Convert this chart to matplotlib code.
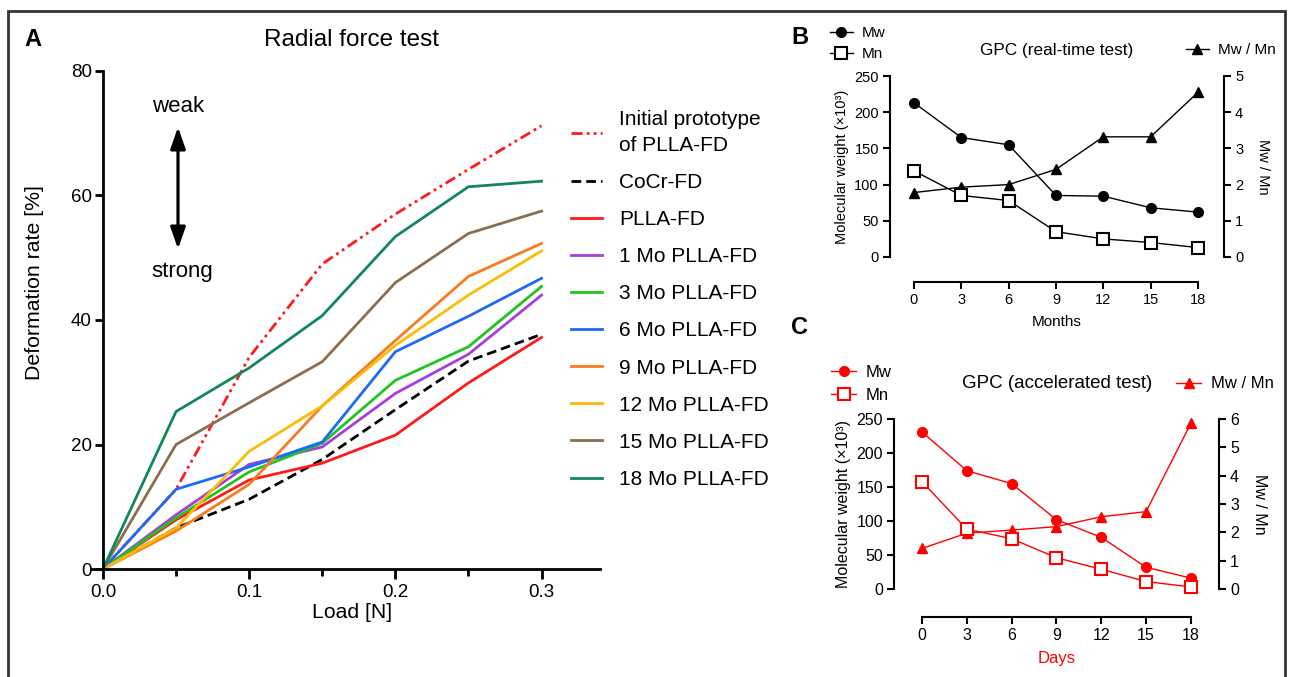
import matplotlib
matplotlib.use("Agg")
import matplotlib.pyplot as plt
from matplotlib.lines import Line2D
from matplotlib.patches import Rectangle

plt.rcParams['font.family'] = ['Liberation Sans', 'DejaVu Sans']

# ---- data ----
load = [0.0, 0.05, 0.1, 0.15, 0.2, 0.25, 0.3]
initial_proto = [0, 12.8, 34.0, 49.0, 57.0, 64.2, 71.2]
cocr = [0, 6.6, 11.2, 17.6, 25.6, 33.4, 37.7]
plla = [0, 7.9, 14.3, 17.0, 21.5, 29.9, 37.2]
mo1 = [0, 8.7, 16.8, 19.6, 28.2, 34.5, 44.0]
mo3 = [0, 8.2, 15.6, 20.2, 30.3, 35.7, 45.4]
mo6 = [0, 12.8, 16.4, 20.4, 34.9, 40.6, 46.7]
mo9 = [0, 6.1, 13.6, 26.2, 36.7, 47.0, 52.3]
mo12 = [0, 6.6, 18.9, 26.2, 35.9, 44.0, 51.1]
mo15 = [0, 20.0, 26.7, 33.3, 46.0, 53.9, 57.5]
mo18 = [0, 25.3, 32.3, 40.7, 53.4, 61.4, 62.3]

months = [0, 3, 6, 9, 12, 15, 18]
rt_mw = [213, 165, 155, 85, 84, 68, 62]
rt_mn = [119, 85, 78, 35, 25, 20, 13]
rt_ratio = [1.78, 1.93, 2.0, 2.42, 3.32, 3.32, 4.55]

days = [0, 3, 6, 9, 12, 15, 18]
acc_mw = [231, 174, 155, 102, 76, 32, 16]
acc_mn = [158, 88, 74, 46, 29, 11, 3]
acc_ratio = [1.43, 1.97, 2.08, 2.2, 2.55, 2.73, 5.85]

W, H = 1289, 677
fig = plt.figure(figsize=(W / 100, H / 100), dpi=100)


def box(l, t, r, b):
    return [l / W, 1 - b / H, (r - l) / W, (b - t) / H]


def fx(px):
    return px / W


def fy(py):
    return 1 - py / H


# outer frame
fig.patches.append(Rectangle((fx(8), -0.02), fx(1285) - fx(8), fy(11) + 0.02,
                             transform=fig.transFigure, fill=False,
                             edgecolor='#333333', lw=2))

# ---------------- Panel A ----------------
ax = fig.add_axes(box(92, 71, 600, 569))
series = [
    ("Initial prototype\nof PLLA-FD", initial_proto, '#ff1a1a', 'dashdot'),
    ("CoCr-FD", cocr, 'black', 'dashed'),
    ("PLLA-FD", plla, '#ff1a1a', 'solid'),
    ("1 Mo PLLA-FD", mo1, '#a43fdc', 'solid'),
    ("3 Mo PLLA-FD", mo3, '#1fc41f', 'solid'),
    ("6 Mo PLLA-FD", mo6, '#1d6af5', 'solid'),
    ("9 Mo PLLA-FD", mo9, '#fa7a1e', 'solid'),
    ("12 Mo PLLA-FD", mo12, '#fbbc05', 'solid'),
    ("15 Mo PLLA-FD", mo15, '#8b6e4e', 'solid'),
    ("18 Mo PLLA-FD", mo18, '#12875a', 'solid'),
]
handles = []
for label, y, c, ls in series:
    if ls == 'dashdot':
        ln, = ax.plot(load, y, color=c, lw=2, dashes=[4, 1.5, 1, 1.5, 1, 1.5], label=label)
    elif ls == 'dashed':
        ln, = ax.plot(load, y, color=c, lw=2, dashes=[3.5, 1.8], label=label)
    else:
        ln, = ax.plot(load, y, color=c, lw=2, label=label)
    handles.append(ln)

ax.set_xlim(-0.0075, 0.34)
ax.set_ylim(0, 80)
ax.spines['top'].set_visible(False)
ax.spines['right'].set_visible(False)
ax.spines['left'].set_position(('data', 0))
ax.spines['left'].set_linewidth(2)
ax.spines['bottom'].set_linewidth(2)
ax.set_xticks([0.0, 0.1, 0.2, 0.3])
ax.set_xticklabels(['0.0', '0.1', '0.2', '0.3'])
ax.set_xticks([0.05, 0.15, 0.25], minor=True)
ax.set_yticks([0, 20, 40, 60, 80])
ax.tick_params(axis='both', which='major', direction='out', width=2, labelsize=13.5)
ax.tick_params(axis='x', which='major', length=7, pad=4)
ax.tick_params(axis='x', which='minor', length=5, width=2)
ax.tick_params(axis='y', which='major', length=6, pad=2)
fig.text(fx(352), fy(612), "Load [N]", ha='center', va='center', fontsize=15.3)
fig.text(fx(35), fy(283), "Deformation rate [%]", ha='center', va='center',
         rotation=90, fontsize=15.3)
fig.text(fx(352), fy(40), "Radial force test", ha='center', va='center', fontsize=17.5)
fig.text(fx(33), fy(40), "A", ha='center', va='center', fontsize=17, fontweight='bold')

# weak / strong
fig.text(fx(178), fy(107), "weak", ha='center', va='center', fontsize=16)
fig.text(fx(182), fy(271), "strong", ha='center', va='center', fontsize=16)
ax.annotate('', xy=(fx(178), fy(127)), xytext=(fx(178), fy(249)),
            xycoords='figure fraction', textcoords='figure fraction',
            arrowprops=dict(arrowstyle='<|-|>,head_length=1.3,head_width=0.45',
                            lw=2.3, color='black', shrinkA=0, shrinkB=0))

leg = ax.legend(handles=handles, loc='upper left',
                bbox_to_anchor=(fx(571), fy(110)), bbox_transform=fig.transFigure,
                frameon=False, fontsize=15, handlelength=1.5, handletextpad=0.8,
                labelspacing=0.87, borderpad=0, borderaxespad=0)
for t in leg.get_texts():
    t.set_linespacing(1.45)


def gpc_panel(rect, xs, mw, mn, ratio, color, xlim, ratio_max, offset, xlabel,
              xlabel_color, fs, rlabelpad):
    a = fig.add_axes(rect)
    a2 = a.twinx()
    a.plot(xs, mw, color=color, lw=1, marker='o', ms=7, clip_on=False, zorder=3)
    a.plot(xs, mn, color=color, lw=1, marker='s', ms=8, mfc='white', mec=color,
           mew=1.5, clip_on=False, zorder=3)
    a2.plot(xs, ratio, color=color, lw=1, marker='^', ms=7, clip_on=False)
    a.set_xlim(*xlim)
    a.set_ylim(0, 250)
    a2.set_ylim(0, ratio_max)
    for s in ['top', 'right']:
        a.spines[s].set_visible(False)
    for s in ['top', 'left', 'bottom']:
        a2.spines[s].set_visible(False)
    a.spines['left'].set_bounds(0, 250)
    a2.spines['right'].set_bounds(0, ratio_max)
    a.spines['bottom'].set_position(('outward', offset))
    a.spines['bottom'].set_bounds(0, 18)
    for sp in [a.spines['left'], a.spines['bottom'], a2.spines['right']]:
        sp.set_linewidth(1.5)
    a.set_xticks(xs)
    a.set_yticks([0, 50, 100, 150, 200, 250])
    a2.set_yticks(list(range(0, ratio_max + 1)))
    a.tick_params(direction='out', length=5, width=1.5, labelsize=fs, pad=3)
    a2.tick_params(direction='out', length=5, width=1.5, labelsize=fs, pad=3)
    a.set_ylabel("Molecular weight (×10³)", fontsize=fs, labelpad=4)
    a2.set_ylabel("Mw / Mn", fontsize=fs, rotation=270, labelpad=rlabelpad)
    a.set_xlabel(xlabel, fontsize=fs + 0.5, color=xlabel_color, labelpad=6)
    a.set_zorder(a2.get_zorder() + 1)
    a.patch.set_visible(False)
    return a


axb = gpc_panel(box(890, 76, 1224, 257), months, rt_mw, rt_mn, rt_ratio, 'black',
                (-1.52, 19.65), 5, 18, "Months", 'black', 10.5, 19)
axc = gpc_panel(box(894, 419, 1219, 589), days, acc_mw, acc_mn, acc_ratio, '#ff0000',
                (-1.87, 19.88), 6, 20, "Days", '#ff0000', 11.5, 20)


def gpc_legend(a, color, top_left, right_x, right_y, title, title_y, fs, tfs):
    h_mw = Line2D([], [], color=color, lw=1, marker='o', ms=7)
    h_mn = Line2D([], [], color=color, lw=1, marker='s', ms=8, mfc='white', mec=color, mew=1.5)
    h_r = Line2D([], [], color=color, lw=1, marker='^', ms=7)
    l1 = a.legend([h_mw, h_mn], ["Mw", "Mn"], loc='upper left',
                  bbox_to_anchor=(fx(top_left[0]), fy(top_left[1])),
                  bbox_transform=fig.transFigure, frameon=False, fontsize=fs,
                  handlelength=1.5, handletextpad=0.6, labelspacing=0.45,
                  borderpad=0, borderaxespad=0)
    a.add_artist(l1)
    a.legend([h_r], ["Mw / Mn"], loc='center left',
             bbox_to_anchor=(fx(right_x), fy(right_y)),
             bbox_transform=fig.transFigure, frameon=False, fontsize=fs,
             handlelength=1.5, handletextpad=0.6, borderpad=0, borderaxespad=0)
    fig.text(fx(1057), fy(title_y), title, ha='center', va='center', fontsize=tfs)


gpc_legend(axb, 'black', (830, 26), 1186, 50, "GPC (real-time test)", 50, 11, 12.4)
gpc_legend(axc, '#ff0000', (831, 365), 1176, 384, "GPC (accelerated test)", 384, 12, 13.5)

fig.text(fx(800), fy(38), "B", ha='center', va='center', fontsize=17, fontweight='bold')
fig.text(fx(800), fy(327), "C", ha='center', va='center', fontsize=17, fontweight='bold')

fig.savefig("out.png", dpi=100)
